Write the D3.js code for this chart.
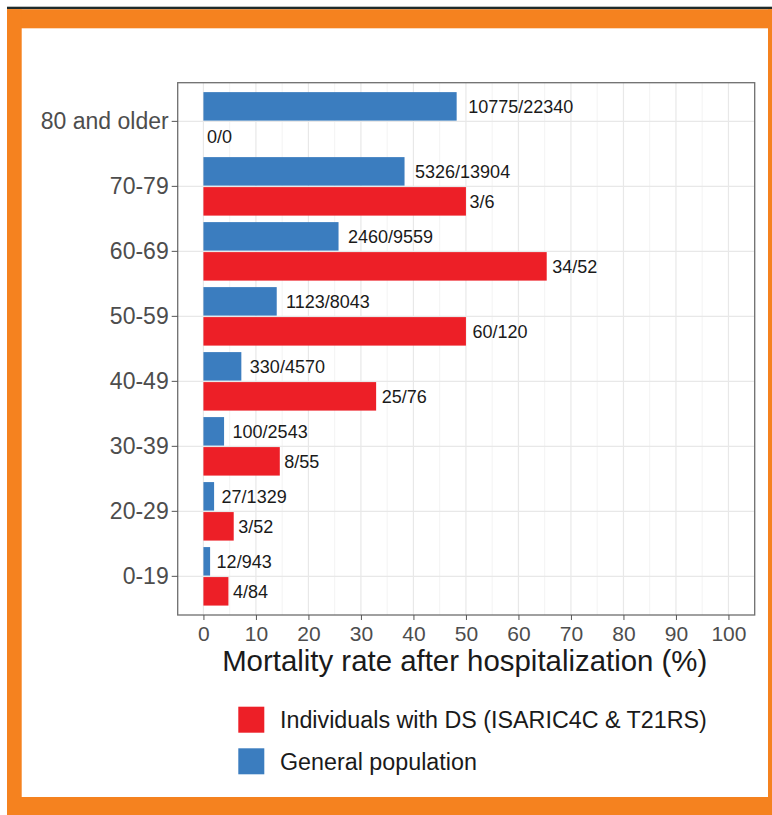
<!DOCTYPE html>
<html>
<head>
<meta charset="utf-8">
<script src="https://cdn.jsdelivr.net/npm/d3@7"></script>
<style>
  body { margin: 0; background: #fff; }
  text { font-family: "Liberation Sans", Arial, sans-serif; }
</style>
</head>
<body>
<script>
// Data
var ageGroups = ['0-19', '20-29', '30-39', '40-49', '50-59', '60-69', '70-79', '80 and older'];
var genDeaths = [12, 27, 100, 330, 1123, 2460, 5326, 10775];
var genTotal  = [943, 1329, 2543, 4570, 8043, 9559, 13904, 22340];
var dsDeaths  = [4, 3, 8, 25, 60, 34, 3, 0];
var dsTotal   = [84, 52, 55, 76, 120, 52, 6, 0];
var xTicks = [0, 10, 20, 30, 40, 50, 60, 70, 80, 90, 100];
var minorTicks = [5, 15, 25, 35, 45, 55, 65, 75, 85, 95];
var groups = ['General population', 'Individuals with DS (ISARIC4C & T21RS)'];
var legendOrder = ['Individuals with DS (ISARIC4C & T21RS)', 'General population'];

var colour = d3.scaleOrdinal()
               .domain(groups)
               .range(['#3b7dbf', '#ed1f27']);

// one row per bar
var rows = [];
ageGroups.forEach(function (age, i) {
  rows.push({ age: age, group: groups[0], d: genDeaths[i], n: genTotal[i] });
  rows.push({ age: age, group: groups[1], d: dsDeaths[i], n: dsTotal[i] });
});
rows.forEach(function (r) { r.rate = r.n ? r.d / r.n * 100 : 0; });

var svg = d3.select('body')
            .append('svg')
            .attr('width', 772)
            .attr('height', 815)
            .style('display', 'block')
            .style('background', '#fff');

// orange frame round the figure
var orange = '#f5821f';
svg.append('rect').attr('x', 7).attr('y', 6.7).attr('width', 765).attr('height', 2.6).attr('fill', '#1f2b2b');
svg.append('rect').attr('x', 7).attr('y', 9.3).attr('width', 765).attr('height', 19).attr('fill', orange);
svg.append('rect').attr('x', 7).attr('y', 9.3).attr('width', 14.7).attr('height', 806).attr('fill', orange);
svg.append('rect').attr('x', 768).attr('y', 9.3).attr('width', 4).attr('height', 806).attr('fill', orange);
svg.append('rect').attr('x', 7).attr('y', 797).attr('width', 765).attr('height', 18).attr('fill', orange);

// panel
var pLeft = 177.7, pRight = 754.7, pTop = 82.7, pBottom = 615;

var x = d3.scaleLinear()
          .domain([-4.9, 105])
          .range([pLeft, pRight]);

var y = d3.scaleBand()
          .domain(ageGroups.slice().reverse())
          .range([pTop, pBottom])
          .paddingInner(0.1)
          .paddingOuter(0.145);

var ySub = d3.scaleBand()
             .domain(groups)
             .range([0, y.bandwidth()])
             .paddingInner(0.05);

// grid lines
var grid = svg.append('g');
grid.selectAll('.minor')
    .data(minorTicks)
    .enter()
    .append('line')
    .attr('x1', d => x(d)).attr('x2', d => x(d))
    .attr('y1', pTop).attr('y2', pBottom)
    .attr('stroke', '#f3f3f3')
    .attr('stroke-width', 1);
grid.selectAll('.major')
    .data(xTicks)
    .enter()
    .append('line')
    .attr('x1', d => x(d)).attr('x2', d => x(d))
    .attr('y1', pTop).attr('y2', pBottom)
    .attr('stroke', '#e8e8e8')
    .attr('stroke-width', 1.2);
grid.selectAll('.hmajor')
    .data(ageGroups)
    .enter()
    .append('line')
    .attr('x1', pLeft).attr('x2', pRight)
    .attr('y1', d => y(d) + y.bandwidth() / 2)
    .attr('y2', d => y(d) + y.bandwidth() / 2)
    .attr('stroke', '#e8e8e8')
    .attr('stroke-width', 1.2);

// bars
svg.append('g')
   .selectAll('rect')
   .data(rows)
   .enter()
   .append('rect')
   .attr('x', x(0))
   .attr('y', d => y(d.age) + ySub(d.group))
   .attr('width', d => x(d.rate) - x(0))
   .attr('height', ySub.bandwidth())
   .attr('fill', d => colour(d.group));

// count labels to the right of each bar
svg.append('g')
   .selectAll('text')
   .data(rows)
   .enter()
   .append('text')
   .attr('y', d => y(d.age) + ySub(d.group) + ySub.bandwidth() / 2)
   .attr('dy', '0.36em')
   .attr('font-size', '18px')
   .attr('fill', '#1a1a1a')
   .text(d => d.d + '/' + d.n)
   .attr('x', function (d) {
     return x(d.rate) + this.getComputedTextLength() * 0.1 + 1;
   });

// panel border
svg.append('rect')
   .attr('x', pLeft).attr('y', pTop)
   .attr('width', pRight - pLeft).attr('height', pBottom - pTop)
   .attr('fill', 'none')
   .attr('stroke', '#6e6e6e')
   .attr('stroke-width', 1.3);

// axes
var yAxis = svg.append('g')
               .attr('transform', 'translate(' + pLeft + ',0)')
               .call(d3.axisLeft(y).tickSize(6).tickSizeOuter(0).tickPadding(3));
yAxis.select('.domain').remove();
yAxis.selectAll('line').attr('stroke', '#555');
yAxis.selectAll('text').attr('font-size', '23px').attr('fill', '#4d4d4d')
     .attr('font-family', '"Liberation Sans", Arial, sans-serif');

var xAxis = svg.append('g')
               .attr('transform', 'translate(0,' + pBottom + ')')
               .call(d3.axisBottom(x).tickValues(xTicks).tickSize(5).tickSizeOuter(0).tickPadding(6.5));
xAxis.select('.domain').remove();
xAxis.selectAll('line').attr('stroke', '#555');
xAxis.selectAll('text').attr('font-size', '21px').attr('fill', '#4d4d4d')
     .attr('font-family', '"Liberation Sans", Arial, sans-serif');

// axis title
svg.append('text')
   .attr('x', (pLeft + pRight) / 2 - 1.5)
   .attr('y', 671)
   .attr('text-anchor', 'middle')
   .attr('font-size', '29.4px')
   .attr('fill', '#1a1a1a')
   .text('Mortality rate after hospitalization (%)');

// legend
var legend = svg.append('g')
                .selectAll('g')
                .data(legendOrder)
                .enter()
                .append('g')
                .attr('transform', (d, i) => 'translate(238.3,' + (706.7 + i * 41.6) + ')');
legend.append('rect')
      .attr('width', 26)
      .attr('height', 26)
      .attr('fill', d => colour(d));
legend.append('text')
      .attr('x', 41.7)
      .attr('y', 13.5)
      .attr('dy', '0.35em')
      .attr('font-size', '23.3px')
      .attr('fill', '#1a1a1a')
      .text(d => d);
</script>
</body>
</html>
